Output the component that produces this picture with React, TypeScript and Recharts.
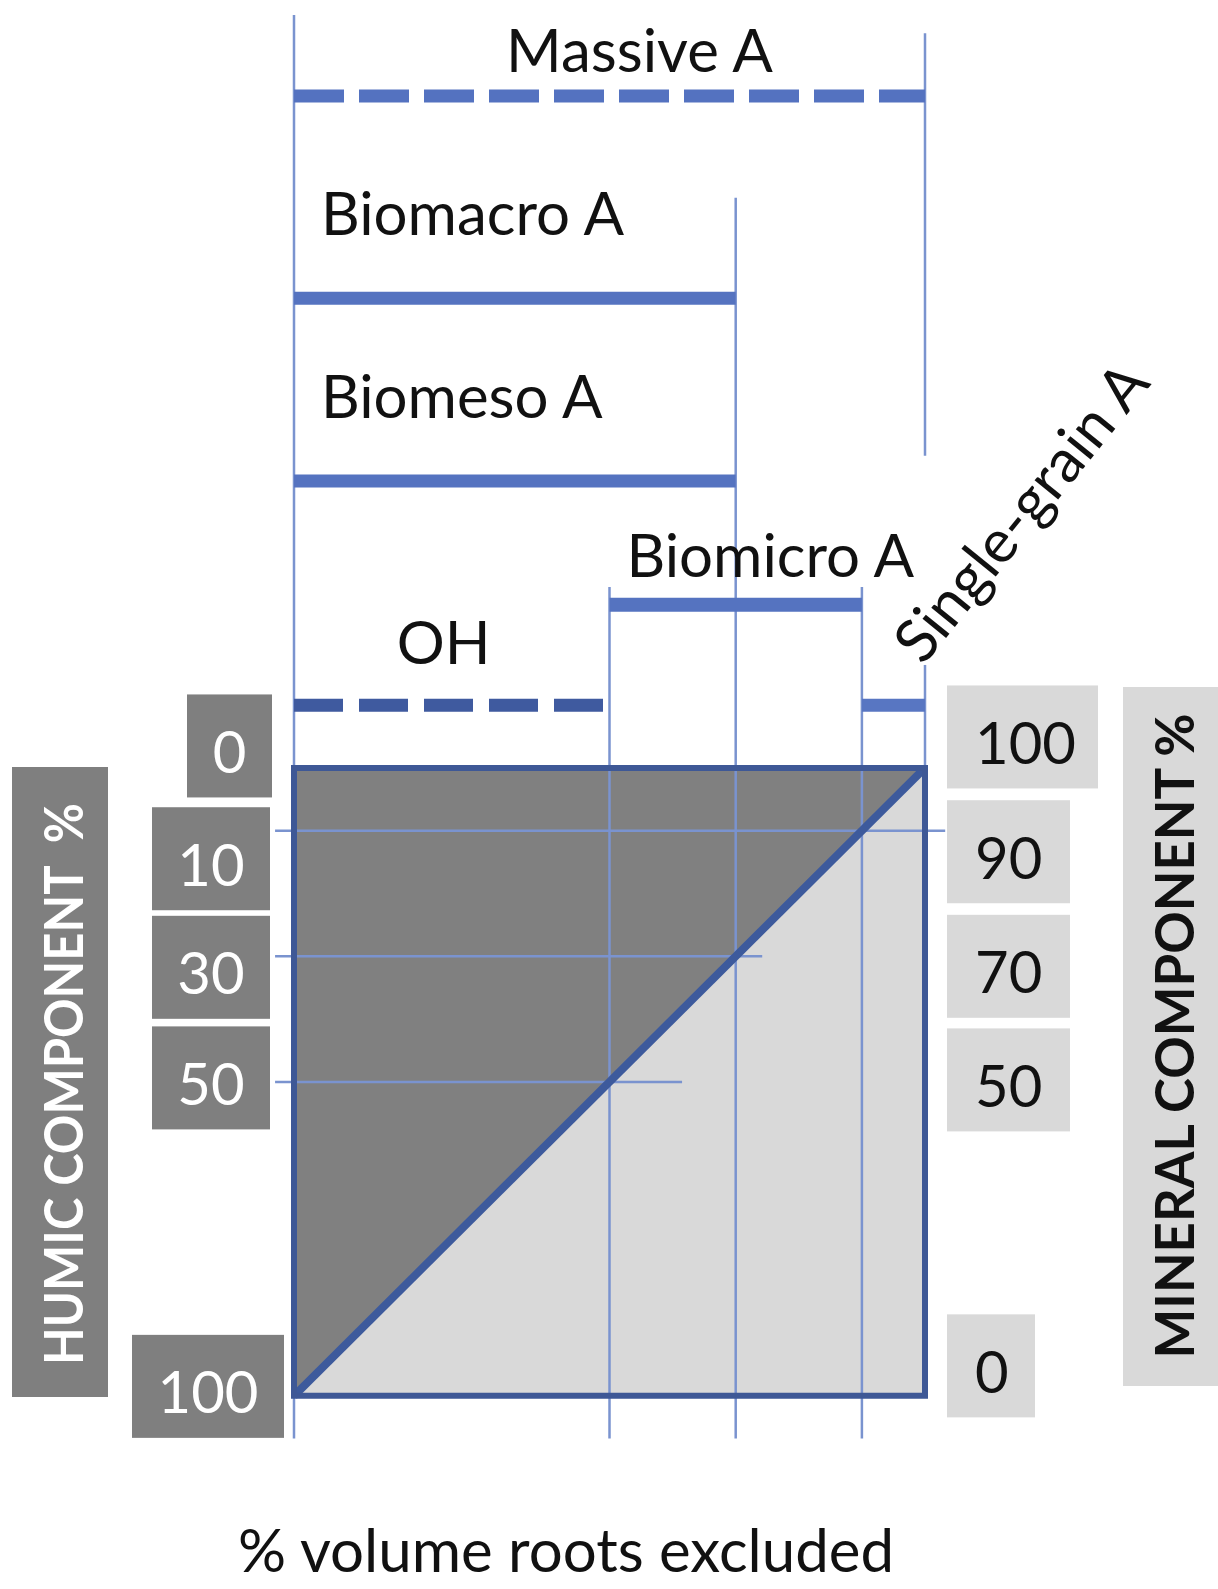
import React from 'react';
import {
  ComposedChart,
  XAxis,
  YAxis,
  Area,
  Line,
  ReferenceArea,
  ReferenceLine,
  Label,
} from 'recharts';

// diagonal: the humic share falls as the roots-excluded volume rises
const rootsExcluded = [0, 100];
const humicShare = [100, 0];

const humicTicks = [0, 10, 30, 50, 100];
const mineralTicks = [100, 90, 70, 50, 0];

// humic thresholds and the roots-excluded % where the diagonal meets them
const humicCuts = [10, 30, 50];
const rootCuts = [90, 70, 50];

// A horizons / OH and the roots-excluded range each one covers
const formNames = ['Massive A', 'Biomacro A', 'Biomeso A', 'Biomicro A', 'OH', 'Single-grain A'];
const formFrom = [0, 0, 0, 50, 0, 90];
const formTo = [100, 70, 70, 90, 50, 100];

const chartData = rootsExcluded.map((r, i) => ({ roots: r, humic: humicShare[i] }));

// ---------- layout ----------
const W = 1218;
const H = 1589;
const FONT = 'Lato, "Open Sans", sans-serif';
const HUMIC_DOMAIN: [number, number] = [-122.3, 130.6];
const MINERAL_DOMAIN: [number, number] = [-30.6, 222.3];

const THIN = '#7a93cf';
const BAR = '#5573c0';

// row of each range bar above the square (humic-axis units)
const ROW: Record<string, number> = {
  'Massive A': -107,
  'Biomacro A': -74.8,
  'Biomeso A': -45.7,
  'Biomicro A': -26,
  OH: -10,
  'Single-grain A': -10,
};

const BAR_STYLE: Record<string, { color: string; width: number; dash?: string }> = {
  'Massive A': { color: '#5472c0', width: 13, dash: '50 15' },
  'Biomacro A': { color: BAR, width: 13 },
  'Biomeso A': { color: BAR, width: 13 },
  'Biomicro A': { color: BAR, width: 14 },
  OH: { color: '#3f5a9f', width: 13, dash: '49 16' },
  'Single-grain A': { color: '#5876c2', width: 13 },
};

const LABEL_POS: Record<
  string,
  { anchor: 'start' | 'middle'; from: 'left' | 'center'; dx: number; dy: number; angle?: number }
> = {
  'Massive A': { anchor: 'middle', from: 'center', dx: 30, dy: -24 },
  'Biomacro A': { anchor: 'start', from: 'left', dx: 27, dy: -63 },
  'Biomeso A': { anchor: 'start', from: 'left', dx: 27, dy: -63 },
  'Biomicro A': { anchor: 'start', from: 'left', dx: 17, dy: -28 },
  OH: { anchor: 'middle', from: 'center', dx: -8, dy: -41 },
  'Single-grain A': { anchor: 'middle', from: 'center', dx: 144, dy: -180, angle: -51 },
};

// extents of the thin guide lines
const VLINE_TOP: Record<number, number> = { 0: -119.9, 50: -28.8, 70: -90.8, 90: -28.8 };
const VLINE_BOTTOM = 106.8;
const RIGHT_EDGE_PIECES: [number, number][] = [
  [-117, -49.7],
  [-16.4, 0],
];
const HLINE_START = -3;
const HLINE_END: Record<number, number> = { 10: 103.2, 30: 74.2, 50: 61.5 };

// tick boxes, relative to the tick position
const BOX_H = 103;
const LEFT_BOX: Record<number, { l: number; r: number; dy: number }> = {
  0: { l: -107, r: -22, dy: -22 },
  10: { l: -142, r: -24, dy: 28 },
  30: { l: -142, r: -24, dy: 11 },
  50: { l: -142, r: -24, dy: -4 },
  100: { l: -162, r: -10, dy: -9.5 },
};
const RIGHT_BOX: Record<number, { l: number; r: number; dy: number }> = {
  100: { l: 22, r: 173, dy: -31 },
  90: { l: 22, r: 145, dy: 21 },
  70: { l: 22, r: 145, dy: 10 },
  50: { l: 22, r: 145, dy: -2 },
  0: { l: 22, r: 110, dy: -30 },
};

const HumicTick = (props: any) => {
  const { x, y, payload } = props;
  const b = LEFT_BOX[payload.value];
  if (!b) return null;
  const cy = y + b.dy;
  return (
    <g>
      <rect x={x + b.l} y={cy - BOX_H / 2} width={b.r - b.l} height={BOX_H} fill="#7f7f7f" />
      <text x={x + (b.l + b.r) / 2} y={cy + 27} textAnchor="middle" fontFamily={FONT} fontSize={58} fill="#ffffff">
        {payload.value}
      </text>
    </g>
  );
};

const MineralTick = (props: any) => {
  const { x, y, payload } = props;
  const b = RIGHT_BOX[payload.value];
  if (!b) return null;
  const cy = y + b.dy;
  return (
    <g>
      <rect x={x + b.l} y={cy - BOX_H / 2} width={b.r - b.l} height={BOX_H} fill="#d9d9d9" />
      <text x={x + 50} y={cy + 27} textAnchor="start" fontFamily={FONT} fontSize={58} fill="#111111">
        {payload.value}
      </text>
    </g>
  );
};

const humicTitle = () => (
  <g>
    <rect x={12} y={767} width={96} height={630} fill="#7f7f7f" />
    <text
      x={83}
      y={1084}
      transform="rotate(-90 83 1084)"
      textAnchor="middle"
      fontFamily={FONT}
      fontWeight={700}
      fontSize={54}
      fill="#ffffff"
      textLength={562}
      lengthAdjust="spacingAndGlyphs"
      style={{ whiteSpace: 'pre' }}
    >
      {'HUMIC COMPONENT  %'}
    </text>
  </g>
);

const mineralTitle = () => (
  <g>
    <rect x={1123} y={687} width={95} height={699} fill="#d9d9d9" />
    <text
      x={1194}
      y={1036}
      transform="rotate(-90 1194 1036)"
      textAnchor="middle"
      fontFamily={FONT}
      fontWeight={700}
      fontSize={53}
      fill="#111111"
      textLength={645}
      lengthAdjust="spacingAndGlyphs"
    >
      MINERAL COMPONENT %
    </text>
  </g>
);

const rootsTitle = () => (
  <text x={566} y={1572} textAnchor="middle" fontFamily={FONT} fontSize={60} fill="#111111">
    % volume roots excluded
  </text>
);

const formLabel = (name: string) => (props: any) => {
  const vb = props.viewBox;
  if (!vb) return null;
  const p = LABEL_POS[name];
  const bx = p.from === 'left' ? vb.x : vb.x + vb.width / 2;
  const tx = bx + p.dx;
  const ty = vb.y + p.dy;
  return (
    <text
      x={tx}
      y={ty}
      textAnchor={p.anchor}
      fontFamily={FONT}
      fontSize={60}
      fill="#111111"
      transform={p.angle ? `rotate(${p.angle} ${tx} ${ty})` : undefined}
    >
      {name}
    </text>
  );
};

export default function App() {
  return (
    <div style={{ position: 'absolute', left: 0, top: 0, width: W, height: H, background: '#ffffff' }}>
      <ComposedChart width={W} height={H} data={chartData} margin={{ top: 0, right: 292, bottom: 0, left: 293 }}>
        <XAxis
          dataKey="roots"
          type="number"
          domain={[0, 100]}
          allowDataOverflow
          ticks={[0, 100]}
          tick={() => <g />}
          axisLine={false}
          tickLine={false}
          height={1}
          label={<Label content={rootsTitle} />}
        />
        <YAxis
          yAxisId="humic"
          type="number"
          domain={HUMIC_DOMAIN}
          reversed
          allowDataOverflow
          ticks={humicTicks}
          interval={0}
          width={1}
          tickSize={0}
          tickMargin={0}
          axisLine={false}
          tickLine={false}
          tick={(p: any) => <HumicTick {...p} />}
          label={<Label content={humicTitle} />}
        />
        <YAxis
          yAxisId="mineral"
          orientation="right"
          type="number"
          domain={MINERAL_DOMAIN}
          allowDataOverflow
          ticks={mineralTicks}
          interval={0}
          width={1}
          tickSize={0}
          tickMargin={0}
          axisLine={false}
          tickLine={false}
          tick={(p: any) => <MineralTick {...p} />}
          label={<Label content={mineralTitle} />}
        />

        {/* square: mineral part */}
        <ReferenceArea
          yAxisId="humic"
          x1={0}
          x2={100}
          y1={0}
          y2={100}
          fill="#d9d9d9"
          fillOpacity={1}
          stroke="none"
          ifOverflow="visible"
          zIndex={1}
        />
        {/* humic part above the diagonal */}
        <Area
          yAxisId="humic"
          type="linear"
          dataKey="humic"
          baseValue={0}
          fill="#808080"
          fillOpacity={1}
          stroke="none"
          dot={false}
          activeDot={false}
          isAnimationActive={false}
          zIndex={2}
        />

        {/* thin guide lines */}
        {[0, ...rootCuts].map((r) => (
          <ReferenceLine
            key={`v-${r}`}
            yAxisId="humic"
            segment={[
              { x: r, y: VLINE_TOP[r] },
              { x: r, y: VLINE_BOTTOM },
            ]}
            stroke={THIN}
            strokeWidth={2.5}
            ifOverflow="visible"
            zIndex={3}
          />
        ))}
        {RIGHT_EDGE_PIECES.map(([a, b], i) => (
          <ReferenceLine
            key={`e-${i}`}
            yAxisId="humic"
            segment={[
              { x: 100, y: a },
              { x: 100, y: b },
            ]}
            stroke={THIN}
            strokeWidth={2.5}
            ifOverflow="visible"
            zIndex={3}
          />
        ))}
        {humicCuts.map((h) => (
          <ReferenceLine
            key={`h-${h}`}
            yAxisId="humic"
            segment={[
              { x: HLINE_START, y: h },
              { x: HLINE_END[h], y: h },
            ]}
            stroke={THIN}
            strokeWidth={2.5}
            ifOverflow="visible"
            zIndex={3}
          />
        ))}

        {/* diagonal */}
        <Line
          yAxisId="humic"
          type="linear"
          dataKey="humic"
          stroke="#3d5a9c"
          strokeWidth={8}
          dot={false}
          activeDot={false}
          isAnimationActive={false}
          zIndex={4}
        />
        {/* square border */}
        <ReferenceArea
          yAxisId="humic"
          x1={0}
          x2={100}
          y1={0}
          y2={100}
          fill="none"
          stroke="#3e5896"
          strokeWidth={6}
          ifOverflow="visible"
          zIndex={5}
        />

        {/* range bars with their names */}
        {formNames.map((name, i) => {
          const s = BAR_STYLE[name];
          return (
            <ReferenceLine
              key={name}
              yAxisId="humic"
              segment={[
                { x: formFrom[i], y: ROW[name] },
                { x: formTo[i], y: ROW[name] },
              ]}
              stroke={s.color}
              strokeWidth={s.width}
              strokeDasharray={s.dash}
              ifOverflow="visible"
              zIndex={6}
              label={<Label content={formLabel(name)} />}
            />
          );
        })}
      </ComposedChart>
    </div>
  );
}
